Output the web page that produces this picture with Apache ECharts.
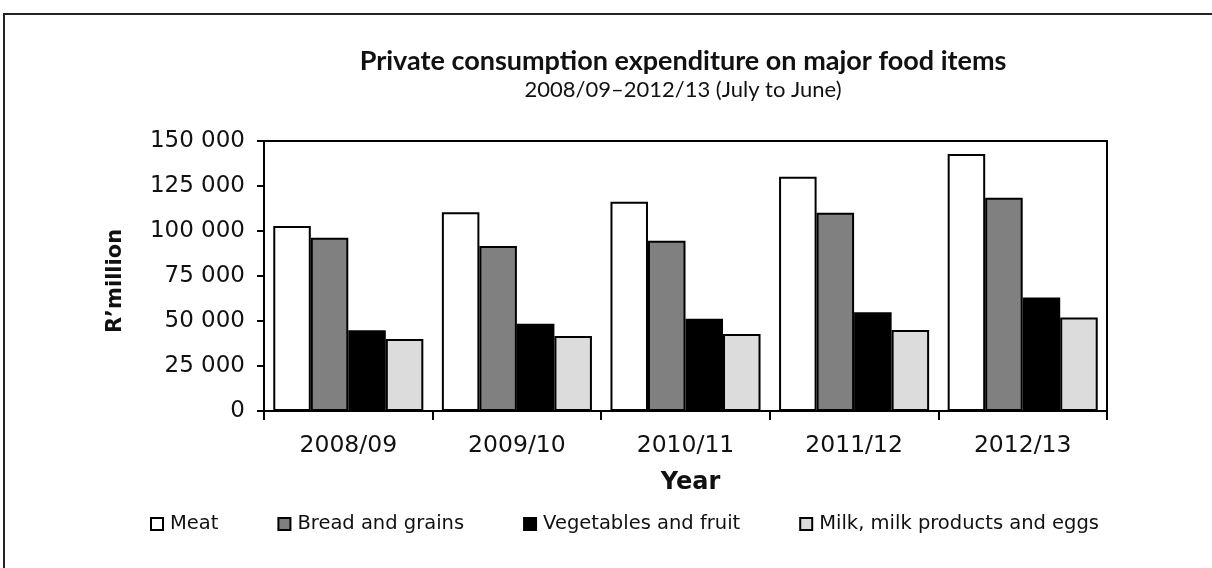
<!DOCTYPE html>
<html>
<head>
<meta charset="utf-8">
<script src="https://cdn.jsdelivr.net/npm/echarts@6/dist/echarts.min.js"></script>
<style>
html,body{margin:0;padding:0;background:#fff;}
#chart{width:1212px;height:568px;}
</style>
</head>
<body>
<div id="chart"></div>
<script>
const categories = ['2008/09', '2009/10', '2010/11', '2011/12', '2012/13'];
const seriesNames = ['Meat', 'Bread and grains', 'Vegetables and fruit', 'Milk, milk products and eggs'];
const meat = [102800, 110400, 116300, 130200, 142800];
const bread = [96300, 91700, 94600, 110200, 118500];
const vegetables = [44800, 48500, 51300, 54800, 63100];
const milk = [40000, 41700, 42800, 45000, 51900];
const yTicks = [0, 25000, 50000, 75000, 100000, 125000, 150000];

const colors = ['#ffffff', '#808080', '#000000', '#dcdcdc'];
const values = [meat, bread, vegetables, milk];

const chart = echarts.init(document.getElementById('chart'));
const fmt = v => String(v).replace(/\B(?=(\d{3})+(?!\d))/g, ' ');

chart.setOption({
  backgroundColor: '#ffffff',
  animation: false,
  title: [{
    text: 'Private consumption expenditure on major food items',
    left: 678,
    top: 41,
    textAlign: 'center',
    textStyle: { fontFamily: 'Lato', fontWeight: 'bold', fontSize: 27, lineHeight: 30, color: '#111' }
  }, {
    text: '2008/09\u20132012/13 (July to June)',
    left: 678,
    top: 72,
    textAlign: 'center',
    textStyle: { fontFamily: 'Lato', fontWeight: 'normal', fontSize: 22, lineHeight: 26, color: '#111' }
  }],
  graphic: [{
    type: 'rect',
    z: -1,
    shape: { x: 4, y: 14, width: 1400, height: 800 },
    style: { fill: 'none', stroke: '#222', lineWidth: 2 }
  }],
  legend: {
    data: seriesNames,
    left: 145,
    top: 509,
    icon: 'rect',
    itemWidth: 12,
    itemHeight: 12,
    itemGap: 59,
    textStyle: { fontFamily: 'DejaVu Sans', fontSize: 19.5, color: '#111', padding: [0, 0, 0, 2] }
  },
  grid: { left: 264, right: 105, top: 141, bottom: 157, show: true, borderColor: '#000', borderWidth: 2, backgroundColor: 'transparent' },
  xAxis: {
    type: 'category',
    data: categories,
    name: 'Year',
    nameLocation: 'middle',
    nameGap: 60,
    nameTextStyle: { fontFamily: 'DejaVu Sans', fontWeight: 'bold', fontSize: 24, color: '#111', padding: [0, 0, 0, 10] },
    axisLine: { lineStyle: { color: '#000', width: 2 } },
    axisTick: { show: true, length: 9, lineStyle: { color: '#000', width: 2 } },
    axisLabel: { margin: 23, fontFamily: 'DejaVu Sans', fontSize: 23.5, color: '#111' }
  },
  yAxis: {
    type: 'value',
    min: 0,
    max: 150000,
    interval: 25000,
    name: 'R\u2019million',
    nameLocation: 'middle',
    nameGap: 138,
    nameTextStyle: { fontFamily: 'DejaVu Sans', fontWeight: 'bold', fontSize: 21, color: '#111', padding: [0, 10, 0, 0] },
    axisLine: { show: true, lineStyle: { color: '#000', width: 2 } },
    axisTick: { show: true, length: 7, lineStyle: { color: '#000', width: 2 } },
    splitLine: { show: false },
    axisLabel: {
      margin: 19,
      fontFamily: 'DejaVu Sans', fontSize: 23, color: '#111',
      formatter: v => yTicks.includes(v) ? fmt(v) : ''
    }
  },
  series: seriesNames.map((name, i) => ({
    name: name,
    type: 'bar',
    data: values[i],
    barGap: '0%',
    barCategoryGap: '11%',
    itemStyle: { color: colors[i], borderColor: '#000', borderWidth: 2 }
  }))
});
</script>
</body>
</html>
